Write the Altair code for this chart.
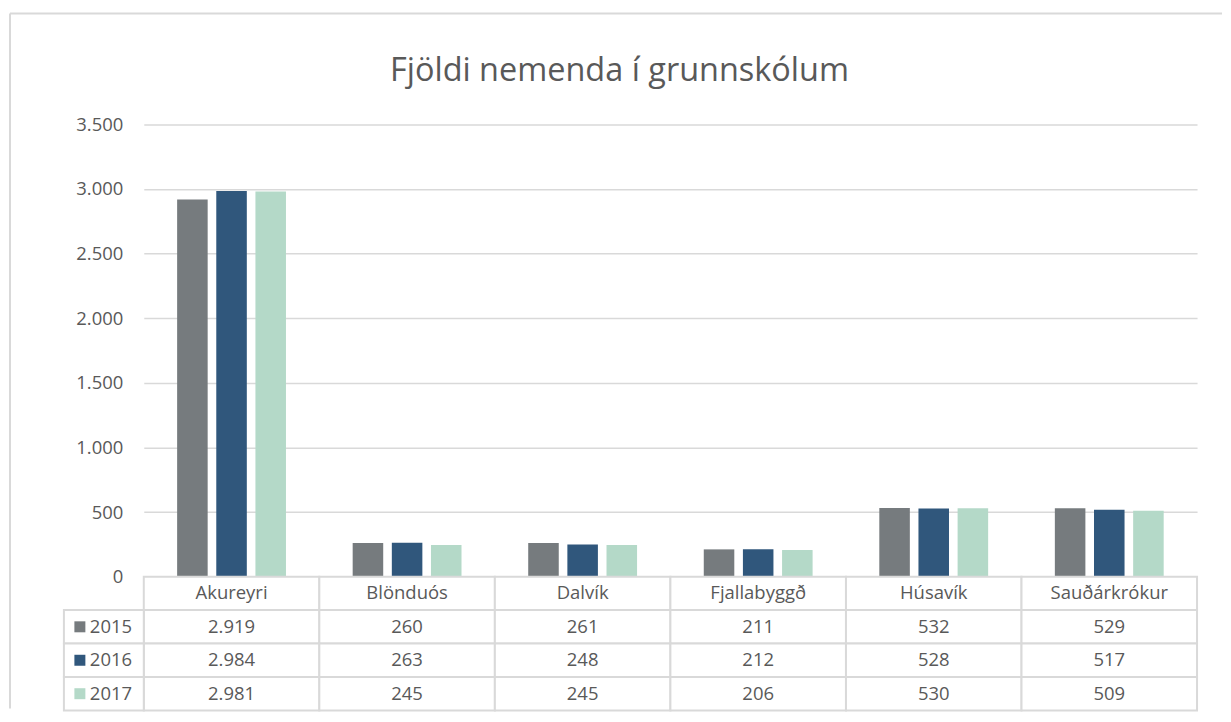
import altair as alt
import pandas as pd

categories = ["Akureyri", "Blönduós", "Dalvík", "Fjallabyggð", "Húsavík", "Sauðárkrókur"]
years = ["2015", "2016", "2017"]
values_2015 = [2919, 260, 261, 211, 532, 529]
values_2016 = [2984, 263, 248, 212, 528, 517]
values_2017 = [2981, 245, 245, 206, 530, 509]
y_ticks = [0, 500, 1000, 1500, 2000, 2500, 3000, 3500]
title_text = "Fjöldi nemenda í grunnskólum"

colors = ["#767b7e", "#30577c", "#b4d9c8"]
FONT = "Open Sans"
TXT = "#595959"
GRID = "#d9d9d9"
W, H, TH = 1055, 453, 134
FS = 18.5

series = {"2015": values_2015, "2016": values_2016, "2017": values_2017}
rows = []
for yr in years:
    for c, v in zip(categories, series[yr]):
        rows.append({"cat": c, "row": yr, "value": v,
                     "label": f"{v:,}".replace(",", ".")})
df = pd.DataFrame(rows)

table_rows = ["hdr"] + years
cells_df = pd.DataFrame([{"cat": c, "row": r} for r in table_rows for c in categories])
hdr_df = pd.DataFrame({"cat": categories, "row": ["hdr"] * len(categories)})
year_df = pd.DataFrame({"row": years})
one = pd.DataFrame({"t": [title_text]})

color = alt.Color("row:N", scale=alt.Scale(domain=years, range=colors), legend=None)

# ---------- bar panel ----------
bars = alt.Chart(df).mark_bar().encode(
    x=alt.X("cat:N", sort=categories,
            scale=alt.Scale(domain=categories, paddingInner=0.38, paddingOuter=0.19),
            axis=None),
    xOffset=alt.XOffset("row:N", sort=years,
                        scale=alt.Scale(domain=years, paddingInner=0.22, paddingOuter=0)),
    y=alt.Y("value:Q", scale=alt.Scale(domain=[0, 3500], nice=False),
            axis=alt.Axis(values=y_ticks,
                          labelExpr="replace(format(datum.value, ','), ',', '.')",
                          domain=False, ticks=False, grid=True, gridColor=GRID,
                          gridWidth=1.5, labelPadding=21, labelFontSize=FS,
                          labelColor=TXT, labelFont=FONT, title=None)),
    color=color,
)

# outer chart frame (top and left edges; the right edge lies beyond the picture)
frame_top = alt.Chart(one).mark_rule(color=GRID, strokeWidth=2).encode(
    x=alt.value(-134), x2=alt.value(1080), y=alt.value(-111))
frame_left = alt.Chart(one).mark_rule(color=GRID, strokeWidth=2).encode(
    x=alt.value(-134), y=alt.value(-111), y2=alt.value(585))
title_mark = alt.Chart(one).mark_text(
    font=FONT, fontSize=32.5, color=TXT, baseline="alphabetic", align="center"
).encode(x=alt.value(W / 2 - 51), y=alt.value(-43), text="t:N")

top = alt.layer(frame_top, frame_left, title_mark, bars).properties(
    width=W, height=H)

# ---------- data table panel ----------
xtab = alt.X("cat:N", sort=categories,
             scale=alt.Scale(domain=categories, paddingInner=0, paddingOuter=0), axis=None)
ytab = alt.Y("row:N", sort=table_rows,
             scale=alt.Scale(domain=table_rows, paddingInner=0, paddingOuter=0), axis=None)

cells = alt.Chart(cells_df).mark_rect(fill="white", stroke=GRID, strokeWidth=2).encode(
    x=xtab, y=ytab)
left_cells = alt.Chart(year_df).mark_rect(fill="white", stroke=GRID, strokeWidth=2).encode(
    x=alt.value(-80), x2=alt.value(0), y=ytab)
hdr_text = alt.Chart(hdr_df).mark_text(font=FONT, fontSize=FS, color=TXT).encode(
    x=xtab, y=ytab, text="cat:N")
val_text = alt.Chart(df).mark_text(font=FONT, fontSize=FS, color=TXT).encode(
    x=xtab, y=ytab, text="label:N")
squares = alt.Chart(year_df).mark_square(size=121, opacity=1, filled=True).encode(
    x=alt.value(-64), y=ytab, color=color)
year_text = alt.Chart(year_df).mark_text(font=FONT, fontSize=FS, color=TXT, align="left").encode(
    x=alt.value(-54), y=ytab, text="row:N")

table = alt.layer(cells, left_cells, hdr_text, val_text, squares, year_text).properties(
    width=W, height=TH)

chart = alt.vconcat(top, table, spacing=0, bounds="flush").resolve_scale(
    x="independent", y="independent", color="shared"
).properties(
    padding={"left": 1, "top": 4, "right": 0, "bottom": 0},
    background="white",
).configure_view(stroke=None, strokeWidth=0)

chart.save("out.html", embed_options={"renderer": "svg", "actions": False})
